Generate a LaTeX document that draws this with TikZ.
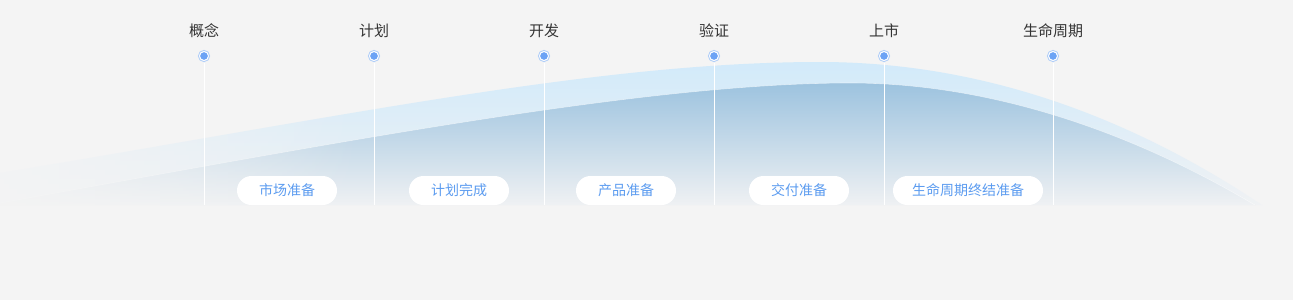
\documentclass[tikz,border=0pt]{standalone}
\usepackage{fontspec}
\usetikzlibrary{fadings}
\newfontfamily\cjk{Noto Sans CJK SC}
\definecolor{bgc}{HTML}{F4F4F4}
\definecolor{titlec}{HTML}{333333}
\definecolor{pillc}{HTML}{5C9CF0}
\definecolor{dotc}{HTML}{6CA3F5}
\definecolor{ringc}{HTML}{B0CEF8}
\definecolor{lighttop}{HTML}{D2EAFA}
\definecolor{lightbot}{HTML}{F0F2F4}
\definecolor{darktop}{HTML}{9DC3DF}
\definecolor{darkbot}{HTML}{EFF1F3}
\tikzfading[name=fadeleft, left color=transparent!0, right color=transparent!100]
\tikzset{
  title/.style={font=\cjk\fontsize{15}{18}\selectfont, text=titlec, inner sep=0pt},
  dotnode/.style={circle, fill=dotc, draw=white, line width=1pt, minimum size=9pt, inner sep=0pt,
    preaction={fill=ringc, draw=ringc, line width=3pt}},
  pill/.style={rounded corners=14.5pt, fill=white, minimum width=100pt, minimum height=29pt, inner sep=0pt, font=\cjk\fontsize{14}{17}\selectfont, text=pillc},
  vline/.style={draw=white, line width=1pt}
}
\begin{document}
\begin{tikzpicture}[x=1pt,y=-1pt]
\fill[bgc] (0,0) rectangle (1293,300);
\useasboundingbox (0,0) rectangle (1293,300);
% light band
\shade[top color=lighttop, bottom color=lightbot]
  (0,173) .. controls (350,115) and (600,62) .. (820,62)
  .. controls (1000,62) and (1150,130) .. (1262,205) -- (0,205) -- cycle;
% dark area
\shade[top color=darktop, bottom color=darkbot]
  (0,203) .. controls (350,140) and (650,83) .. (850,83)
  .. controls (980,83) and (1120,125) .. (1255,205) -- (0,205) -- cycle;
\draw[white, opacity=0.5, line width=0.6pt]
  (0,203) .. controls (350,140) and (650,83) .. (850,83)
  .. controls (980,83) and (1120,125) .. (1255,205);
% left fade into background
\fill[bgc, path fading=fadeleft, opacity=0.9] (-1,100) rectangle (360,206);
% milestones
\foreach \i/\x/\t in {1/204/概念, 2/374/计划, 3/544/开发, 4/714/验证, 5/884/上市, 6/1053/生命周期} {
  \coordinate (b\i) at (\x,205);
  \node[dotnode] (d\i) at (\x,56) {};
  \node[title] (t\i) at (\x,31) {\t};
  \draw[vline] (d\i.south) ++(0,1.5) -- (b\i);
}
% pills
\node[pill] (p1) at (287,190.5) {市场准备};
\node[pill] (p2) at (459,190.5) {计划完成};
\node[pill] (p3) at (626,190.5) {产品准备};
\node[pill] (p4) at (799,190.5) {交付准备};
\node[pill, minimum width=150pt] (p5) at (968,190.5) {生命周期终结准备};
\end{tikzpicture}
\end{document}
